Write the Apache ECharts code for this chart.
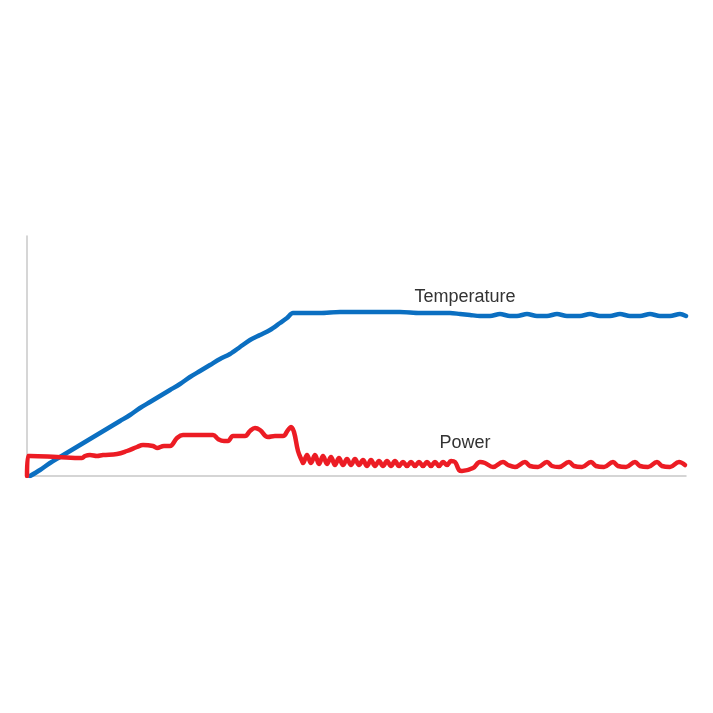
<!DOCTYPE html>
<html>
<head>
<meta charset="utf-8">
<script src="https://cdn.jsdelivr.net/npm/echarts@6/dist/echarts.min.js"></script>
<style>html,body{margin:0;padding:0;background:#fff}#c{width:713px;height:713px}</style>
</head>
<body>
<div id="c"></div>
<script>
// time (arbitrary units) and level (arbitrary units)
const temperature = [
  [3,0],[13,6],[23,13],[33,19],[43,25],[53,31],[63,37],[73,43],[83,49],[93,55],[103,61],[113,68],[123,74],[133,80],
  [143,86],[153,92],[163,99],[173,105],[183,111],[193,117],[203,122],[213,129],[223,136],[233,141],[243,146],[253,153],
  [260,158],[266,163],[280,163],[293,163],[313,164],[333,164],[353,164],[373,164],[393,163],[413,163],[423,163],
  [433,162],[443,161],[453,160],[463,160],[473,162],[483,160],[490,160],[500,162],[510,160],[520,160],[530,162],
  [540,160],[553,160],[563,162],[573,160],[583,160],[593,162],[603,160],[613,160],[623,162],[633,160],[643,160],
  [653,162],[659,160]
];
const power = [
  [0,0],[1,20],[3,20],[30,19],[55,18],[58,20],[63,21],[70,20],[76,21],[90,22],[100,25],[110,29],[116,31],[126,30],
  [130,28],[137,30],[143,30],[150,38],[156,41],[186,41],[191,37],[197,35],[201,35],[206,40],[218,40],[223,45],
  [228,48],[233,46],[241,39],[248,40],[256,40],[261,46],[264,49],[267,44],[271,25],[275,15],
  [276,13],[280,21],[284,13],[288,21],[292,12],[296,20],[300,12],[304,19],[308,11],[312,18],[316,11],[320,17],
  [324,11],[328,17],[332,11],[336,16],[340,10],[344,16],[348,10],[352,15],[356,10],[360,15],[364,10],[368,15],
  [372,10],[376,14],[380,10],[384,14],[388,10],[392,14],[396,10],[400,14],[404,10],[408,14],[412,10],[416,14],
  [420,11],[424,15],[428,14],[432,6],[435,5],[446,8],[453,14],[458,13],[466,9],[476,14],[481,11],[488,9],
  [498,14],[503,10],[511,9],[520,14],[525,10],[532,9],[542,14],[547,10],[555,9],[564,14],[569,10],[577,9],
  [586,14],[591,10],[599,9],[608,14],[613,10],[621,9],[630,14],[635,10],[643,9],[652,14],[658,11]
];
const labels = { temperature: 'Temperature', power: 'Power' };
const labelPos = { temperature: [438, 179], power: [438, 33] };

const chart = echarts.init(document.getElementById('c'), null, {renderer: 'canvas'});
const axisLine = {show: true, lineStyle: {color: '#c8c8c8', width: 1.5}};
function mk(name, pos) {
  return {
    silent: true, animation: false,
    data: [{coord: pos, symbol: 'circle', symbolSize: 0,
      label: {show: true, position: 'inside', formatter: name, color: '#333', fontSize: 18,
        fontFamily: 'Liberation Sans, Arial, sans-serif'}}]
  };
}
chart.setOption({
  animation: false,
  backgroundColor: '#fff',
  grid: {left: 27, right: 27, top: 236, bottom: 237},
  xAxis: {type: 'value', min: 0, max: 659, axisLine: axisLine, axisTick: {show: false},
    axisLabel: {show: false}, splitLine: {show: false}},
  yAxis: {type: 'value', min: 0, max: 240, axisLine: axisLine, axisTick: {show: false},
    axisLabel: {show: false}, splitLine: {show: false}},
  series: [
    {name: labels.temperature, type: 'line', data: temperature, symbol: 'none', smooth: 0.3,
      lineStyle: {color: '#0b6fc1', width: 4.5, cap: 'round', join: 'round'},
      markPoint: mk(labels.temperature, labelPos.temperature)},
    {name: labels.power, type: 'line', data: power, symbol: 'none', smooth: 0.4,
      lineStyle: {color: '#ec1c24', width: 4.5, cap: 'round', join: 'round'},
      markPoint: mk(labels.power, labelPos.power)}
  ]
});
</script>
</body>
</html>
